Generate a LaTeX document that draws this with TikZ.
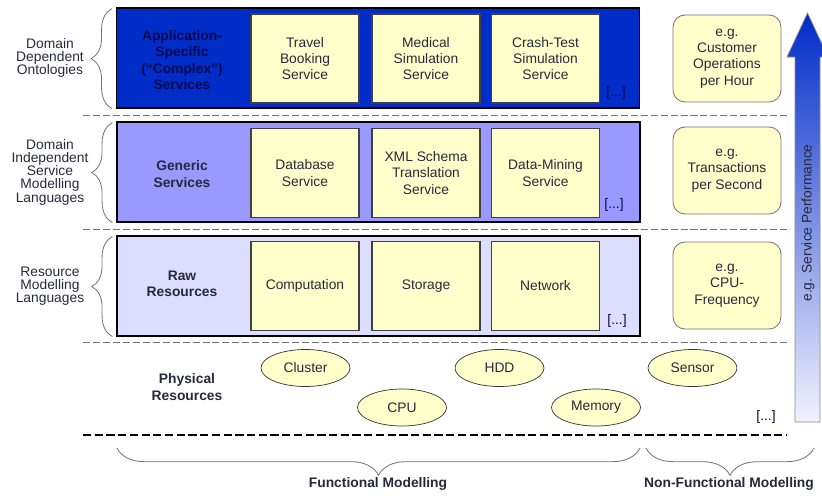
\documentclass[tikz,border=0pt]{standalone}
\usepackage{fontspec}
\setmainfont{Liberation Sans}
\usepackage{tikz}
\usetikzlibrary{calc}
\usetikzlibrary{positioning}
\usetikzlibrary{shapes.geometric}
\usetikzlibrary{decorations.pathreplacing}
\definecolor{appblue}{RGB}{0,44,200}
\definecolor{genblue}{RGB}{153,153,255}
\definecolor{rawblue}{RGB}{221,221,255}
\definecolor{paleyellow}{RGB}{255,255,204}
\definecolor{txtdark}{RGB}{40,40,60}
\definecolor{navytxt}{RGB}{10,10,80}
\newcommand{\labelfont}{\fontsize{11.8}{14}\selectfont}

\begin{document}
\begin{tikzpicture}[
  x=0.03cm, y=-0.03cm,
  every node/.style={font=\labelfont, text=txtdark, align=center},
  band/.style = {draw=black, line width=1pt, minimum width=15.69cm, minimum height=3cm},
  svc/.style = {draw=black!75, line width=0.9pt, fill=paleyellow, minimum width=3.24cm, minimum height=2.67cm},
  metric/.style = {draw=black!55, line width=0.7pt, fill=paleyellow, rounded corners=0.36cm, minimum width=3.24cm, minimum height=2.61cm},
  phys/.style = {ellipse, draw=black!80, line width=0.6pt, fill=paleyellow, minimum width=2.67cm, minimum height=1.11cm, inner sep=0pt},
  bandlabel/.style = {font=\labelfont\bfseries},
  sidelabel/.style = {font=\fontsize{11.8}{11.3}\selectfont},
  more/.style = {text=navytxt},
  layerline/.style = {draw=black!55, line width=0.7pt, dash pattern=on 6pt off 2.5pt},
  sidebrace/.style = {draw=black!55, line width=0.7pt, decorate, decoration={brace, amplitude=0.62cm}},
  footbrace/.style = {draw=black!55, line width=0.7pt, decorate, decoration={brace, amplitude=0.82cm}}
  ]
  \useasboundingbox (0,0) rectangle (822,497);

  % layers
  \node[band, fill=appblue] (app) at (378,58) {};
  \node[band, fill=genblue] (gen) at (378.5,172) {};
  \node[band, fill=rawblue] (raw) at (378.5,286) {};

  \node[bandlabel, text=navytxt] (applbl) at (182,60) {Application-\\Specific\\(``Complex'')\\Services};
  \node[bandlabel] (genlbl) at (182,174) {Generic\\Services};
  \node[bandlabel] (rawlbl) at (182,284) {Raw\\Resources};
  \node[bandlabel] (physlbl) at (187,387) {Physical\\Resources};

  \node[svc] (travel) at (305,58.5) {Travel\\Booking\\Service};
  \node[svc] (medical) at (426,58.5) {Medical\\Simulation\\Service};
  \node[svc] (crash) at (545.5,58.5) {Crash-Test\\Simulation\\Service};

  \node[svc] (db) at (305,173) {Database\\Service};
  \node[svc] (xml) at (426,173) {XML Schema\\Translation\\Service};
  \node[svc] (mining) at (545.5,173) {Data-Mining\\Service};

  \node[svc] (comp) at (305,286) {Computation};
  \node[svc] (storage) at (426,286) {Storage};
  \node[svc] (network) at (545.5,286) {Network};

  \node[more] (moreapp) at (616,93) {[...]};
  \node[more] (moregen) at (614,205) {[...]};
  \node[more] (moreraw) at (617,321) {[...]};
  \node[more] (morephys) at (766,417) {[...]};

  % physical resources
  \node[phys] (cluster) at (305.5,368) {Cluster};
  \node[phys] (hdd) at (499.5,368) {HDD};
  \node[phys] (sensor) at (692.5,368) {Sensor};
  \node[phys] (cpu) at (402,407.5) {CPU};
  \node[phys] (memory) at (596,407.5) {Memory};

  % non-functional
  \node[metric] (perhour) at (727,58.5) {e.g.\\Customer\\Operations\\per Hour};
  \node[metric] (persec) at (727,170.5) {e.g.\\Transactions\\per Second};
  \node[metric] (freq) at (727,285.5) {e.g.\\CPU-\\Frequency};

  \draw[layerline] (83,115) -- (787,115);
  \draw[layerline] (83,229) -- (787,229);
  \draw[layerline] (83,342) -- (787,342);
  \draw[draw=black, line width=1.2pt, dash pattern=on 7pt off 3pt] (83,435) -- (787,435);

  % performance arrow
  \shade[top color=appblue, bottom color=rawblue!40, draw=black!45, line width=0.6pt]
    (795,422) -- (795,57) -- (787,57) -- (807.5,13) -- (828,57) -- (820,57) -- (820,422) -- cycle;
  \node[rotate=90, text=txtdark] (perf) at (808,223) {e.g. Service Performance};

  % braces
  \node[sidelabel] (dep) at (50,58) {Domain\\Dependent\\Ontologies};
  \node[sidelabel] (indep) at (50,172) {Domain\\Independent\\Service\\Modelling\\Languages};
  \node[sidelabel] (resmod) at (50,286) {Resource\\Modelling\\Languages};
  \draw[sidebrace] (app.south west) ++(-4,0) -- ++(0,-100);
  \draw[sidebrace] (gen.south west) ++(-4,0) -- ++(0,-100);
  \draw[sidebrace] (raw.south west) ++(-4,0) -- ++(0,-100);

  \draw[footbrace] (640,448) -- (117,448);
  \draw[footbrace] (814,448) -- (646,448);
  \node[bandlabel] (func) at (378,484) {Functional Modelling};
  \node[bandlabel] (nonfunc) at (729,484) {Non-Functional Modelling};

\end{tikzpicture}
\end{document}
